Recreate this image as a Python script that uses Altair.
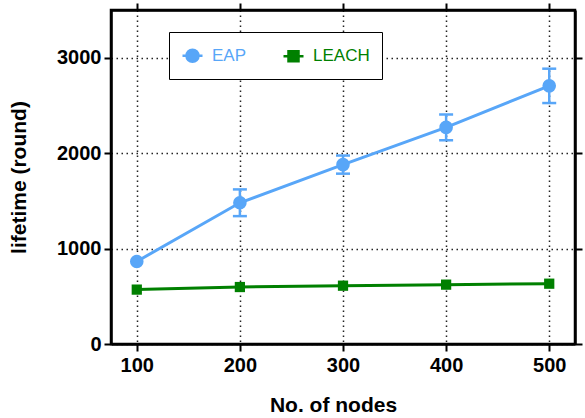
import altair as alt
import pandas as pd

# Network lifetime vs. number of nodes
nodes = [100, 200, 300, 400, 500]
eap_lifetime = [865, 1480, 1880, 2270, 2705]
eap_err = [0, 140, 95, 135, 180]
leach_lifetime = [570, 597, 611, 622, 632]
leach_err = [0, 0, 0, 0, 0]

series_names = ["EAP", "LEACH"]
series_colors = ["#58A6F8", "#008000"]

rows = []
for name, vals, errs in [("EAP", eap_lifetime, eap_err), ("LEACH", leach_lifetime, leach_err)]:
    for n, v, e in zip(nodes, vals, errs):
        rows.append({"nodes": n, "lifetime": v, "err": e, "lo": v - e, "hi": v + e, "series": name})
df = pd.DataFrame(rows)

FONT = "Liberation Sans"

xscale = alt.Scale(domain=[75, 525], nice=False, zero=False)
yscale = alt.Scale(domain=[0, 3500], nice=False)
cscale = alt.Scale(domain=series_names, range=series_colors)

tick_common = dict(tickColor="black", tickWidth=2, tickSize=7,
                   domain=True, domainColor="black", domainWidth=2.5)

x_bottom = alt.X("nodes:Q", scale=xscale,
                 axis=alt.Axis(values=nodes, title="No. of nodes", format="d",
                               labelFont=FONT, labelFontSize=20, labelFontWeight="bold",
                               labelColor="black", labelPadding=4,
                               titleFont=FONT, titleFontSize=21, titleFontWeight="bold",
                               titleColor="black", titlePadding=19, titleX=222,
                               grid=True, gridColor="#222222", gridDash=[1.5, 3.5], gridWidth=1.5,
                               **tick_common))
y_left = alt.Y("lifetime:Q", scale=yscale,
               axis=alt.Axis(values=[0, 1000, 2000, 3000], title="lifetime (round)", format="d",
                             labelFont=FONT, labelFontSize=20, labelFontWeight="bold",
                             labelColor="black", labelPadding=3,
                             titleFont=FONT, titleFontSize=21, titleFontWeight="bold",
                             titleColor="black", titlePadding=27,
                             grid=True, gridColor="#222222", gridDash=[1.5, 3.5], gridWidth=1.5,
                             **tick_common))
x_top = alt.X("nodes:Q", scale=xscale,
              axis=alt.Axis(values=nodes, orient="top", labels=False, title=None, grid=False, **tick_common))
y_right = alt.Y("lo:Q", scale=yscale,
                axis=alt.Axis(values=[0, 1000, 2000, 3000], orient="right", labels=False, title=None,
                              grid=False, **tick_common))

base = alt.Chart(df)
color_enc = alt.Color("series:N", scale=cscale, legend=None)

lines = base.mark_line(strokeWidth=3).encode(
    x=x_bottom, y=y_left, color=color_enc,
)

# error bars: vertical rule plus caps at both ends
with_err = base.transform_filter("datum.err > 0")
err_rules = with_err.mark_rule(strokeWidth=2.5).encode(
    x=x_top, y=y_right, y2="hi:Q", color=color_enc,
)
err_lo = with_err.mark_tick(orient="horizontal", size=14, thickness=2.5, opacity=1).encode(
    x=alt.X("nodes:Q", scale=xscale, axis=None), y=alt.Y("lo:Q", scale=yscale, axis=None),
    color=color_enc,
)
err_hi = with_err.mark_tick(orient="horizontal", size=14, thickness=2.5, opacity=1).encode(
    x=alt.X("nodes:Q", scale=xscale, axis=None), y=alt.Y("hi:Q", scale=yscale, axis=None),
    color=color_enc,
)

eap_pts = base.transform_filter("datum.series == 'EAP'").mark_point(
    shape="circle", filled=True, size=185, opacity=1).encode(
    x=alt.X("nodes:Q", scale=xscale, axis=None), y=alt.Y("lifetime:Q", scale=yscale, axis=None),
    color=color_enc,
)
leach_pts = base.transform_filter("datum.series == 'LEACH'").mark_point(
    shape="square", filled=True, size=105, opacity=1).encode(
    x=alt.X("nodes:Q", scale=xscale, axis=None), y=alt.Y("lifetime:Q", scale=yscale, axis=None),
    color=color_enc,
)

# line-through-marker legend symbols
circle_sym = "M-1,0H1M0.6,0A0.6,0.6,0,1,1,-0.6,0A0.6,0.6,0,1,1,0.6,0Z"
square_sym = "M-1,0H1M-0.5,-0.5H0.5V0.5H-0.5Z"

label_color_expr = "datum.value === 'EAP' ? '%s' : '%s'" % (series_colors[0], series_colors[1])

legend_props = dict(
    title=None, orient="none", legendX=58, legendY=22, direction="horizontal",
    strokeColor="black", fillColor="white", padding=12, cornerRadius=0,
    columnPadding=31, symbolSize=400, labelOffset=8,
    labelFont=FONT, labelFontSize=17, labelLimit=200,
    symbolStrokeWidth=2.5, symbolOpacity=1,
    labelColor={"expr": label_color_expr},
)

# legend-only layer (no rows drawn); listed first so its legend settings take precedence
legend_layer = base.transform_filter("datum.nodes < 0").mark_point(
    filled=True, opacity=1, size=400, strokeWidth=2.5).encode(
    color=alt.Color("series:N", scale=cscale, legend=alt.Legend(**legend_props)),
    stroke=alt.Stroke("series:N", scale=cscale, legend=alt.Legend(**legend_props)),
    shape=alt.Shape("series:N", scale=alt.Scale(domain=series_names, range=[circle_sym, square_sym]),
                    legend=alt.Legend(**legend_props)),
)

chart = alt.layer(legend_layer, lines, err_rules, err_lo, err_hi, eap_pts, leach_pts).resolve_axis(
    x="independent", y="independent"
).properties(
    width=464, height=334,
    background="white",
    autosize=alt.AutoSizeParams(type="none"),
    padding={"left": 111, "top": 10, "right": 10, "bottom": 74},
).configure_view(stroke="black", strokeWidth=2.5)

chart.save("out.html", embed_options={"renderer": "svg", "actions": False})
